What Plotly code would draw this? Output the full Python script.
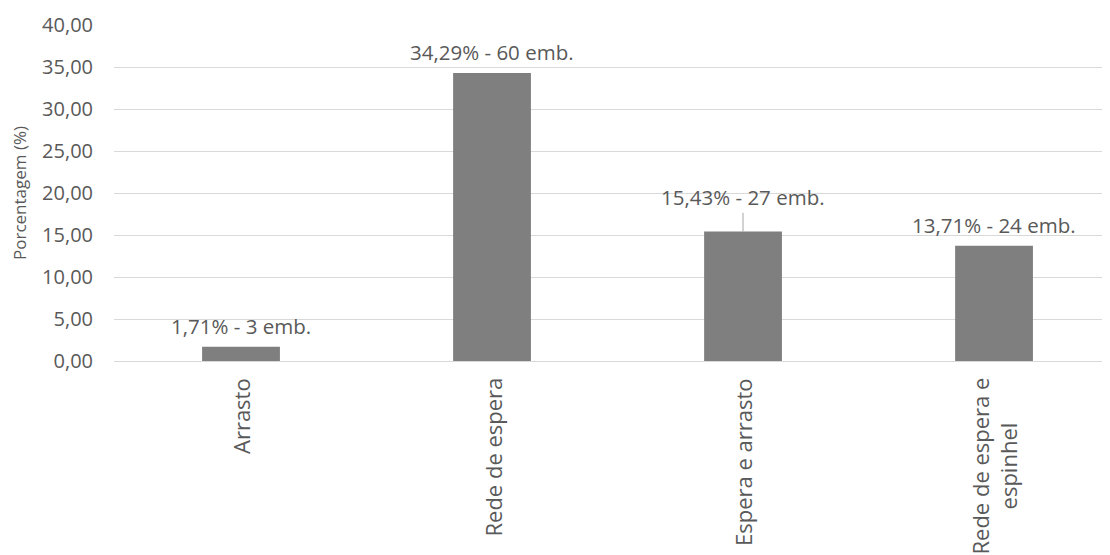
import plotly.graph_objects as go

categorias = ["Arrasto", "Rede de espera", "Espera e arrasto", "Rede de espera e<br>espinhel"]
porcentagem = [1.71, 34.29, 15.43, 13.71]
embarcacoes = [3, 60, 27, 24]

CINZA_TXT = "#595959"
FONTE = "Open Sans"

def rotulo(p, n):
    return f"{p:.2f}".replace(".", ",") + f"% - {n} emb."

fig = go.Figure()
fig.add_trace(go.Bar(
    x=list(range(len(categorias))), y=porcentagem,
    width=0.31, marker=dict(color="#7f7f7f", line=dict(width=0)),
    hoverinfo="skip",
))

# rotulos de dados
for i, (p, n) in enumerate(zip(porcentagem, embarcacoes)):
    if i == 2:
        # rotulo deslocado com linha de chamada
        fig.add_annotation(x=i, y=p, text=rotulo(p, n), showarrow=True,
                           arrowhead=0, arrowwidth=1, arrowcolor="#a6a6a6",
                           ax=0, ay=-34, font=dict(family=FONTE, size=20.5, color=CINZA_TXT))
    else:
        fig.add_annotation(x=i, y=p, text=rotulo(p, n), showarrow=False,
                           yanchor="middle", yshift=21,
                           font=dict(family=FONTE, size=20.5, color=CINZA_TXT))

# nomes das categorias (rotacionados, centralizados)
for i, c in enumerate(categorias):
    fig.add_annotation(x=i, y=0, xref="x", yref="paper", text=c, showarrow=False,
                       textangle=-90, xanchor="center", yanchor="top", yshift=-15,
                       align="center",
                       font=dict(family=FONTE, size=22, color=CINZA_TXT))

# a pagina tem margem de 8px no body
fig.update_layout(
    width=1102, height=547,
    margin=dict(l=106, r=0, t=17, b=194),
    plot_bgcolor="white", paper_bgcolor="white",
    separators=",.",
    showlegend=False,
    font=dict(family=FONTE, color=CINZA_TXT),
    xaxis=dict(range=[-0.506, 3.462], showticklabels=False, showgrid=False,
               zeroline=False, showline=False, ticks=""),
    yaxis=dict(range=[0, 40], dtick=5, tickformat=".2f",
               gridcolor="#d9d9d9", gridwidth=1,
               zeroline=True, zerolinecolor="#d9d9d9", zerolinewidth=1,
               showline=False, ticks="", ticklabelstandoff=20,
               tickfont=dict(family=FONTE, size=20, color=CINZA_TXT),
               title=dict(text="Porcentagem (%)", standoff=12,
                          font=dict(family=FONTE, size=17, color=CINZA_TXT))),
)

fig.write_html("out.html")
